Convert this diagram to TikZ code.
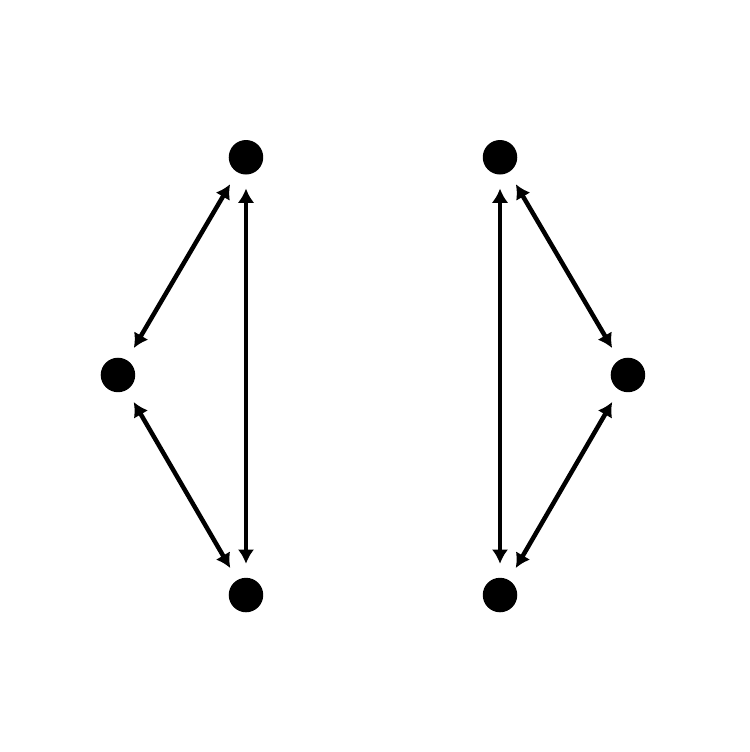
\documentclass[tikz,border=0pt]{standalone}
\usetikzlibrary{arrows.meta}

\begin{document}
\begin{tikzpicture}

\useasboundingbox (0,0) rectangle (10,10.027);

% Dots
\tikzstyle{dot} = [circle, fill=black, inner sep=0pt, minimum size=0.46cm]
\node[dot] (lt) at (3.28, 7.93) { };
\node[dot] (lm) at (1.573, 5.027) { };
\node[dot] (lb) at (3.28, 2.093) { };
\node[dot] (rt) at (6.667, 7.93) { };
\node[dot] (rm) at (8.373, 5.027) { };
\node[dot] (rb) at (6.667, 2.093) { };

% Links
\tikzstyle{link} = [line width=0.06cm, {Latex[width=0.22cm,length=0.19cm]}-{Latex[width=0.22cm,length=0.19cm]}, shorten >=0.18cm, shorten <=0.18cm]
\foreach \from/\to in {lt/lm, lm/lb, lt/lb, rt/rm, rm/rb, rt/rb}
\draw [link] (\from) -- (\to);

\end{tikzpicture}
\end{document}
